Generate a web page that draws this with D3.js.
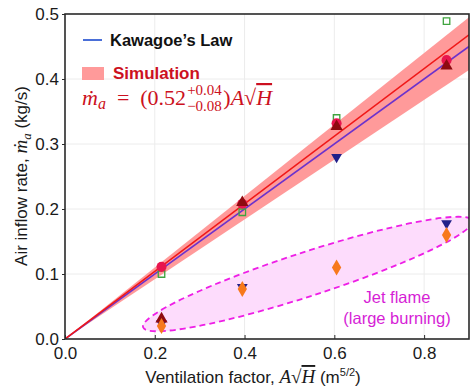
<!DOCTYPE html>
<html>
<head>
<meta charset="utf-8">
<script src="https://cdn.jsdelivr.net/npm/d3@7"></script>
<style>
  html, body { margin: 0; padding: 0; background: #fff; }
</style>
</head>
<body>
<svg id="chart" width="470" height="390" font-family="Liberation Sans, Arial, sans-serif"></svg>
<script>
// Ventilation factor A*sqrt(H) of each case (m^5/2)
const ventFactor = [0.215, 0.395, 0.605, 0.85];

// Measured air inflow rates (kg/s), one array per data set
const seriesSquare   = [0.100, 0.195, 0.340, 0.489];
const seriesCircle   = [0.111, 0.208, 0.332, 0.429];
const seriesTriUp    = [0.031, 0.210, 0.327, 0.420];
const seriesTriDown  = [0.024, 0.080, 0.280, 0.178];
const seriesDiamond  = [0.020, 0.077, 0.110, 0.160];

// Correlation slopes: Kawagoe's law and the simulation fit with its band
const kawagoeSlope = 0.50;
const simSlope = 0.52;
const simBandUpper = 0.55;
const simBandLower = 0.46;

// Tick values
const xTicks = [0.0, 0.2, 0.4, 0.6, 0.8];
const yTicks = [0.0, 0.1, 0.2, 0.3, 0.4, 0.5];

// Jet-flame region: long-axis tips (data units)
const jetTips = [[0.174, 0.018], [0.907, 0.182]];

const svg = d3.select("#chart");
const x = d3.scaleLinear().domain([0, 0.9]).range([65, 469]);
const y = d3.scaleLinear().domain([0, 0.5]).range([339, 14]);
const [x0, x1] = x.range();
const [y0, y1] = y.range();

svg.append("defs").append("clipPath").attr("id", "plotClip")
  .append("rect").attr("x", x0).attr("y", y1).attr("width", x1 - x0).attr("height", y0 - y1);

// Grid
const grid = svg.append("g").attr("stroke", "#ececec").attr("stroke-width", 1);
xTicks.filter(t => t > 0).forEach(t => grid.append("line")
  .attr("x1", x(t)).attr("x2", x(t)).attr("y1", y1).attr("y2", y0));
yTicks.filter(t => t > 0 && t < 0.5).forEach(t => grid.append("line")
  .attr("x1", x0).attr("x2", x1).attr("y1", y(t)).attr("y2", y(t)));

const plot = svg.append("g").attr("clip-path", "url(#plotClip)");

// Jet-flame ellipse
{
  const p1 = [x(jetTips[0][0]), y(jetTips[0][1])];
  const p2 = [x(jetTips[1][0]), y(jetTips[1][1])];
  const cx = (p1[0] + p2[0]) / 2, cy = (p1[1] + p2[1]) / 2;
  const a = Math.hypot(p2[0] - p1[0], p2[1] - p1[1]) / 2;
  const b = 22;
  const ang = Math.atan2(p2[1] - p1[1], p2[0] - p1[0]) * 180 / Math.PI;
  plot.append("ellipse")
    .attr("cx", cx).attr("cy", cy).attr("rx", a).attr("ry", b)
    .attr("transform", `rotate(${ang},${cx},${cy})`)
    .attr("fill", "#fddcfc")
    .attr("stroke", "#ee1fe6").attr("stroke-width", 1.8)
    .attr("stroke-dasharray", "6,4");
}

// Simulation band
const xs = [0, 0.9];
plot.append("path")
  .attr("d", d3.area().x(d => x(d)).y0(d => y(simBandLower * d)).y1(d => y(simBandUpper * d))(xs))
  .attr("fill", "#ff9a9a");

// Kawagoe's law line
plot.append("path")
  .attr("d", d3.line().x(d => x(d)).y(d => y(kawagoeSlope * d))(xs))
  .attr("stroke", "#6c32cc").attr("stroke-width", 1.6).attr("fill", "none");

// Simulation fit line
plot.append("path")
  .attr("d", d3.line().x(d => x(d)).y(d => y(simSlope * d))(xs))
  .attr("stroke", "#f01818").attr("stroke-width", 1.6).attr("fill", "none");

// Markers
function drawSeries(vals, type, size, fill, stroke, rot) {
  plot.append("g").selectAll("path").data(vals).join("path")
    .attr("d", d3.symbol().type(type).size(size))
    .attr("transform", (d, i) => `translate(${x(ventFactor[i])},${y(d)}) rotate(${rot || 0})`)
    .attr("fill", fill).attr("stroke", stroke).attr("stroke-width", stroke === "none" ? 0 : 1.3);
}
drawSeries(seriesSquare, d3.symbolSquare, 42, "none", "#3ea43e");
drawSeries(seriesCircle, d3.symbolCircle, 80, "#e8154e", "none");
drawSeries(seriesTriDown, d3.symbolTriangle, 50, "#22208a", "none", 180);
drawSeries(seriesTriUp, d3.symbolTriangle, 65, "#8e0a10", "none");
drawSeries(seriesDiamond, d3.symbolDiamond, 75, "#f7791c", "none");

// Frame
svg.append("rect").attr("x", x0).attr("y", y1).attr("width", x1 - x0).attr("height", y0 - y1)
  .attr("fill", "none").attr("stroke", "#2a2a2a").attr("stroke-width", 1.6);

// Axes
const xAxis = svg.append("g").attr("transform", `translate(0,${y0})`)
  .call(d3.axisBottom(x).tickValues(xTicks).tickFormat(d3.format(".1f")).tickSize(-4).tickPadding(6));
const yAxis = svg.append("g").attr("transform", `translate(${x0},0)`)
  .call(d3.axisLeft(y).tickValues(yTicks).tickFormat(d3.format(".1f")).tickSize(3).tickPadding(3));
[xAxis, yAxis].forEach(g => {
  g.select(".domain").remove();
  g.selectAll(".tick line").attr("stroke", "#2a2a2a");
  g.selectAll(".tick text").attr("font-size", 17).attr("fill", "#1a1a1a")
    .attr("font-family", "Liberation Sans, Arial, sans-serif");
});
xAxis.selectAll(".tick text").attr("dy", "0.85em");

// Axis titles
const serif = "Liberation Serif, Times New Roman, serif";
{
  const t = svg.append("text").attr("x", 253).attr("y", 383).attr("text-anchor", "middle")
    .attr("font-size", 17).attr("fill", "#1a1a1a");
  t.append("tspan").text("Ventilation factor, ");
  t.append("tspan").attr("font-family", serif).attr("font-style", "italic").attr("font-size", 19).text("A");
  t.append("tspan").attr("font-family", serif).attr("font-size", 19).text("√");
  t.append("tspan").attr("font-family", serif).attr("font-style", "italic").attr("font-size", 19)
    .attr("text-decoration", "overline").text("H");
  t.append("tspan").text(" (m");
  t.append("tspan").attr("font-size", 11).attr("dy", -7).text("5/2");
  t.append("tspan").attr("dy", 7).text(")");
}
{
  const t = svg.append("text").attr("transform", "translate(27,176) rotate(-90)")
    .attr("text-anchor", "middle").attr("font-size", 17).attr("fill", "#1a1a1a");
  t.append("tspan").text("Air inflow rate, ");
  t.append("tspan").attr("font-family", serif).attr("font-style", "italic").attr("font-size", 19).text("ṁ");
  t.append("tspan").attr("font-family", serif).attr("font-style", "italic").attr("font-size", 13).attr("dy", 4).text("a");
  t.append("tspan").attr("dy", -4).text(" (kg/s)");
}

// Legend
svg.append("line").attr("x1", 83).attr("x2", 102).attr("y1", 40).attr("y2", 40)
  .attr("stroke", "#4a6fd8").attr("stroke-width", 2);
svg.append("text").attr("x", 110).attr("y", 46).attr("font-size", 16.5).attr("font-weight", "bold")
  .attr("fill", "#111").text("Kawagoe’s Law");
svg.append("rect").attr("x", 82).attr("y", 67).attr("width", 22).attr("height", 13).attr("fill", "#ff9a9a");
svg.append("text").attr("x", 113).attr("y", 79).attr("font-size", 17).attr("font-weight", "bold")
  .attr("fill", "#cc1020").text("Simulation");

// Fit equation
{
  const red = "#cc1020";
  const g = svg.append("g").attr("fill", red).attr("font-family", serif);
  const t = g.append("text").attr("x", 82).attr("y", 105).attr("font-size", 22);
  t.append("tspan").attr("font-style", "italic").text("ṁ");
  t.append("tspan").attr("font-style", "italic").attr("font-size", 16).attr("dy", 4).text("a");
  t.append("tspan").attr("dy", -4).text("\u2002=\u2002(0.52");
  const endX = 82 + t.node().getBBox().width;
  const sup = g.append("text").attr("x", endX + 1).attr("y", 95).attr("font-size", 15).text("+0.04");
  const sub = g.append("text").attr("x", endX + 1).attr("y", 111).attr("font-size", 15).text("−0.08");
  const w = Math.max(sup.node().getBBox().width, sub.node().getBBox().width);
  const t2 = g.append("text").attr("x", endX + w + 2).attr("y", 105).attr("font-size", 22);
  t2.append("tspan").text(")");
  t2.append("tspan").attr("font-style", "italic").text("A");
  t2.append("tspan").text("√");
  t2.append("tspan").attr("font-style", "italic").attr("text-decoration", "overline").text("H");
}

// Region annotation
svg.append("text").attr("x", 397).attr("y", 303).attr("text-anchor", "middle")
  .attr("font-size", 16.5).attr("fill", "#d61ed6").text("Jet flame");
svg.append("text").attr("x", 397).attr("y", 324).attr("text-anchor", "middle")
  .attr("font-size", 16.5).attr("fill", "#d61ed6").text("(large burning)");
</script>
</body>
</html>
